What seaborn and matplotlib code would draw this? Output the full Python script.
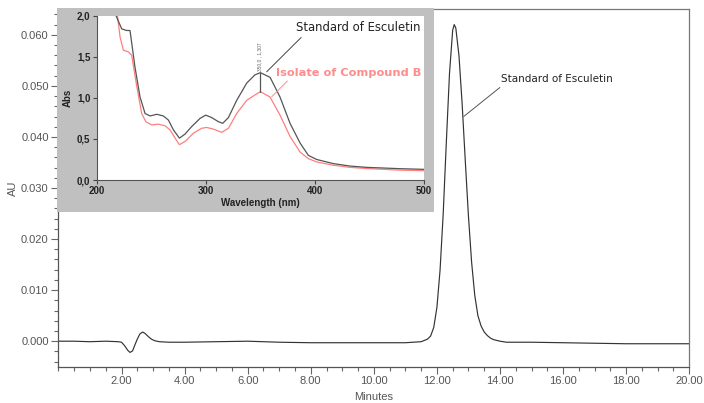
import matplotlib
matplotlib.use("Agg")
import matplotlib.pyplot as plt
import seaborn as sns
import pandas as pd
from matplotlib.ticker import MultipleLocator, FixedLocator

# ---------------- data: chromatogram ----------------
minutes = [0.0, 0.5, 1.0, 1.5, 1.9, 2.0, 2.1, 2.2, 2.27, 2.35, 2.42, 2.5, 2.58, 2.67,
           2.75, 2.85, 2.95, 3.05, 3.2, 3.5, 4.0, 5.0, 6.0, 7.0, 8.0, 9.0, 10.0, 11.0,
           11.5, 11.7, 11.8, 11.9, 12.0, 12.1, 12.2, 12.3, 12.4, 12.5, 12.55, 12.6, 12.7,
           12.8, 12.9, 13.0, 13.1, 13.2, 13.3, 13.4, 13.5, 13.6, 13.7, 13.8, 14.0, 14.2,
           14.5, 15.0, 16.0, 17.0, 18.0, 19.0, 20.0]
au = [0.0000, 0.0000, -0.0001, 0.0000, -0.0001, -0.0002, -0.0009, -0.0018, -0.0022,
      -0.0019, -0.0008, 0.0004, 0.0014, 0.0018, 0.0015, 0.0009, 0.0004, 0.0001, -0.0001,
      -0.0002, -0.0002, -0.0001, 0.0000, -0.0002, -0.0003, -0.0003, -0.0003, -0.0003,
      -0.0001, 0.0004, 0.0010, 0.0027, 0.0066, 0.0139, 0.0250, 0.0391, 0.0525, 0.0609,
      0.0620, 0.0613, 0.0559, 0.0465, 0.0353, 0.0245, 0.0155, 0.0090, 0.0050, 0.0030,
      0.0018, 0.0011, 0.0006, 0.0003, 0.0000, -0.0002, -0.0002, -0.0002, -0.0003,
      -0.0004, -0.0005, -0.0005, -0.0005]

# ---------------- data: UV spectra (inset) ----------------
wl_std = [215, 217.7, 222.9, 227.5, 230.5, 235, 239.7, 244.3, 248.9, 255, 261, 265.7,
          270.3, 275.8, 281, 287, 294.7, 299.9, 305.4, 311.5, 315.5, 320.7, 328.3, 337.5,
          345, 350, 358.9, 368, 377.2, 386.4, 394, 401.6, 416.9, 432.2, 447.5, 478, 500]
abs_std = [2.30, 2.00, 1.84, 1.82, 1.82, 1.38, 1.01, 0.81, 0.78, 0.80, 0.78, 0.73, 0.61,
           0.51, 0.56, 0.65, 0.75, 0.79, 0.76, 0.71, 0.69, 0.76, 0.97, 1.18, 1.28, 1.307,
           1.25, 1.01, 0.69, 0.45, 0.30, 0.25, 0.20, 0.17, 0.154, 0.138, 0.13]
wl_iso = [216, 219, 221.4, 224.4, 229, 232, 236.7, 241.2, 245, 250.4, 256.5, 262.6, 267.2,
          271.8, 275.8, 281, 288.6, 296.2, 300.8, 306.9, 314.5, 320.7, 328.3, 337.5, 346.7,
          350, 358.9, 368, 377.2, 386.4, 394, 401.6, 416.9, 432.2, 447.5, 478, 500]
abs_iso = [2.30, 2.00, 1.74, 1.58, 1.56, 1.52, 1.14, 0.81, 0.71, 0.67, 0.68, 0.66, 0.61,
           0.51, 0.43, 0.47, 0.57, 0.63, 0.64, 0.62, 0.58, 0.63, 0.81, 0.97, 1.05, 1.075,
           1.01, 0.79, 0.53, 0.34, 0.26, 0.22, 0.18, 0.154, 0.14, 0.12, 0.114]

peak_label = "350,0 , 1,307"
std_label = "Standard of Esculetin"
iso_label = "Isolate of Compound B"

sns.set_theme(style="white")
plt.rcParams["font.family"] = ["Liberation Sans", "DejaVu Sans"]

fig = plt.figure(figsize=(7.04, 4.03), dpi=100)
fig.patch.set_facecolor("white")

# ---------------- main chromatogram ----------------
ax = fig.add_axes([0.083, 0.090, 0.896, 0.887])
chrom = pd.DataFrame({"Minutes": minutes, "AU": au})
sns.lineplot(data=chrom, x="Minutes", y="AU", ax=ax, color="#333333", linewidth=0.85)
ax.set_xlim(0, 20)
ax.set_ylim(-0.005, 0.065)
xt = [2, 4, 6, 8, 10, 12, 14, 16, 18, 20]
yt = [0.0, 0.01, 0.02, 0.03, 0.04, 0.05, 0.06]
ax.xaxis.set_major_locator(FixedLocator(xt))
ax.xaxis.set_minor_locator(MultipleLocator(0.5))
ax.yaxis.set_major_locator(FixedLocator(yt))
ax.yaxis.set_minor_locator(MultipleLocator(0.002))
ax.set_xticklabels([f"{v:.2f}" for v in xt])
ax.set_yticklabels([f"{v:.3f}" for v in yt])
ax.tick_params(axis="both", which="major", direction="out", length=5, width=0.8,
               color="#666666", labelsize=8, labelcolor="#555555", pad=2)
ax.tick_params(axis="both", which="minor", direction="out", length=3, width=0.8,
               color="#666666")
ax.tick_params(axis="x", which="both", bottom=True)
ax.tick_params(axis="y", which="both", left=True)
for s in ax.spines.values():
    s.set_color("#777777")
    s.set_linewidth(0.9)
ax.spines["left"].set_color("#555555")
ax.spines["bottom"].set_color("#555555")
ax.set_xlabel("Minutes", fontsize=8, color="#555555", labelpad=4)
ax.set_ylabel("AU", fontsize=8, color="#555555", labelpad=2)
ax.annotate(std_label, xy=(12.85, 0.0440), xytext=(14.02, 0.0513),
            fontsize=7.5, color="#222222", family="DejaVu Sans", va="center", ha="left",
            arrowprops=dict(arrowstyle="-", color="#555555", lw=0.7,
                            shrinkA=0, shrinkB=0,
                            relpos=(0.03, 0.0)))

# ---------------- gray inset panel ----------------
bg = fig.add_axes([0.081, 0.474, 0.536, 0.506])
bg.set_facecolor("#c0c0c0")
bg.set_xticks([])
bg.set_yticks([])
for s in bg.spines.values():
    s.set_visible(False)

ins = fig.add_axes([0.1374, 0.5533, 0.4649, 0.4077])
ins.set_facecolor("white")
spec_std = pd.DataFrame({"wl": wl_std, "A": abs_std})
spec_iso = pd.DataFrame({"wl": wl_iso, "A": abs_iso})
sns.lineplot(data=spec_iso, x="wl", y="A", ax=ins, color="#ff7f7f", linewidth=0.9)
sns.lineplot(data=spec_std, x="wl", y="A", ax=ins, color="#555555", linewidth=0.9)
ins.set_xlim(200, 500)
ins.set_ylim(0, 2.0)
ins.set_xticks([200, 300, 400, 500])
ins.set_yticks([0.0, 0.5, 1.0, 1.5, 2.0])
ins.set_yticklabels(["0,0", "0,5", "1,0", "1,5", "2,0"])
ins.tick_params(axis="both", which="major", direction="out", length=3, width=0.8,
                color="#444444", labelsize=7, pad=1.5)
ins.tick_params(axis="x", bottom=True)
ins.tick_params(axis="y", left=True)
for lab in ins.get_xticklabels() + ins.get_yticklabels():
    lab.set_fontweight("bold")
    lab.set_color("#222222")
ins.spines["top"].set_visible(False)
ins.spines["right"].set_visible(False)
ins.spines["left"].set_color("#555555")
ins.spines["bottom"].set_color("#555555")
ins.spines["left"].set_linewidth(0.8)
ins.spines["bottom"].set_linewidth(0.8)
ins.set_xlabel("Wavelength (nm)", fontsize=7, fontweight="bold", color="#222222",
               labelpad=1)
ins.set_ylabel("Abs", fontsize=7, fontweight="bold", color="#222222", labelpad=3)

# peak marker
ins.plot([350, 350], [1.075, 1.307], color="#555555", lw=0.9)
ins.text(349, 1.33, peak_label, rotation=90, fontsize=3.5, color="#666666",
         ha="center", va="bottom")

ins.annotate(std_label, xy=(355.8, 1.318), xytext=(382.4, 1.854),
             fontsize=8.4, color="#222222", family="DejaVu Sans", va="center", ha="left",
             arrowprops=dict(arrowstyle="-", color="#444444", lw=0.7,
                             shrinkA=0, shrinkB=0, relpos=(0.07, 0.0)))
ins.annotate(iso_label, xy=(360.4, 1.014), xytext=(364.4, 1.306),
             fontsize=8.2, color="#ff8c8c", fontweight="bold", family="DejaVu Sans",
             va="center", ha="left",
             arrowprops=dict(arrowstyle="-", color="#ff8c8c", lw=0.7,
                             shrinkA=0, shrinkB=0, relpos=(0.1, 0.0)))

fig.savefig("out.png", dpi=100, facecolor="white")
